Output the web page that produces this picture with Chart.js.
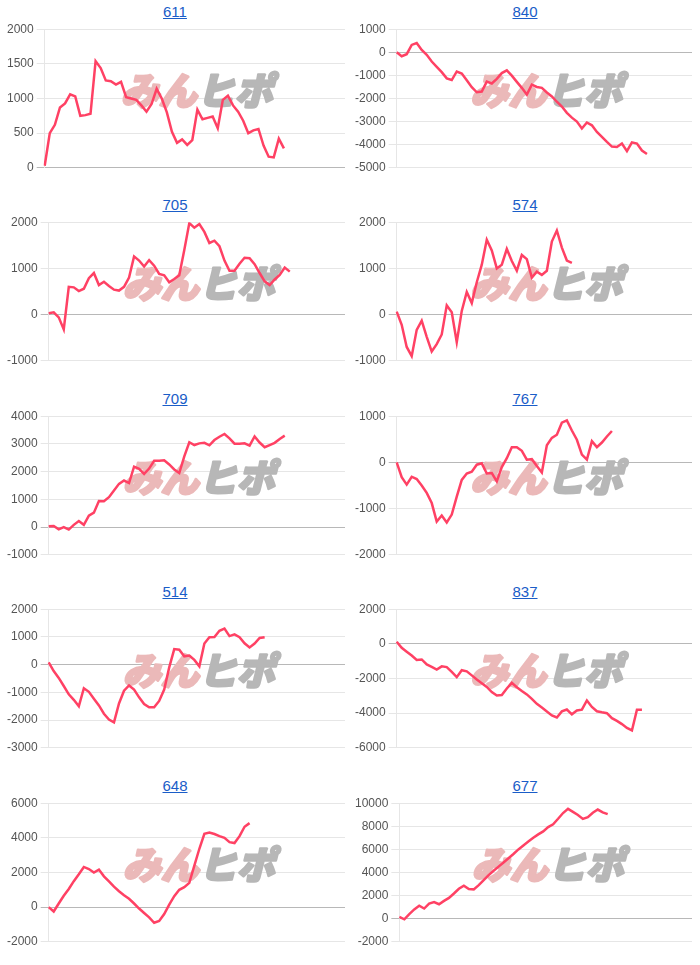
<!DOCTYPE html>
<html>
<head>
<meta charset="utf-8">
<script src="https://cdn.jsdelivr.net/npm/chart.js@4"></script>
<style>
  body { margin: 0; background: #fff; font-family: "Liberation Sans", Arial, sans-serif; }
  #wrap { position: relative; width: 700px; height: 965px; }
  .title { position: absolute; width: 350px; height: 18px; line-height: 18px; text-align: center; font-size: 15px; }
  .title a { color: #1a5dc8; }
  canvas { position: absolute; }
</style>
</head>
<body>
<div id="wrap"></div>
<script>
// chart titles and y axis ranges
const titles = ['611', '840', '705', '574', '709', '767', '514', '837', '648', '677']
const yMin = [0, -5000, -1000, -1000, -1000, -2000, -3000, -6000, -2000, -2000]
const yMax = [2000, 1000, 2000, 2000, 4000, 1000, 2000, 2000, 6000, 10000]
const yStep = [500, 1000, 1000, 1000, 1000, 1000, 1000, 2000, 2000, 2000]

// x slots (no labels shown), the series end before the last slot
const xLabels = Array.from({ length: 60 }, (_, i) => String(i + 1))

const s611 = [30, 500, 620, 870, 930, 1060, 1030, 750, 760, 780, 1540, 1440, 1260, 1250, 1200, 1240, 1020, 1000, 980, 900,
  810, 920, 1140, 1000, 800, 520, 360, 410, 330, 400, 840, 700, 720, 740, 570, 980, 1040, 900, 810, 680,
  500, 540, 560, 320, 160, 150, 420, 280]
const s840 = [0, -170, -80, 320, 400, 100, -110, -400, -630, -860, -1130, -1200, -830, -920, -1210, -1510, -1730, -1700, -1270, -1350,
  -1150, -900, -780, -1010, -1280, -1540, -1830, -1400, -1500, -1540, -1740, -1910, -2140, -2350, -2620, -2830, -3000, -3300, -3040, -3160,
  -3450, -3660, -3880, -4080, -4100, -3950, -4280, -3900, -3950, -4250, -4400]
const s705 = [30, 50, -60, -320, 600, 590, 510, 560, 790, 900, 640, 710, 620, 540, 520, 600, 800, 1260, 1170, 1040,
  1180, 1060, 880, 850, 700, 770, 850, 1400, 1980, 1880, 1960, 1790, 1550, 1600, 1480, 1170, 950, 950, 1100, 1230,
  1220, 1090, 900, 720, 640, 760, 860, 1020, 930]
const s574 = [65, -220, -700, -900, -330, -130, -480, -800, -640, -430, 200, 50, -600, 80, 490, 250, 700, 1080, 1620, 1390,
  1000, 1080, 1420, 1160, 950, 1290, 1200, 800, 930, 860, 950, 1580, 1820, 1450, 1170, 1120]
const s709 = [30, 40, -80, 0, -90, 80, 220, 80, 410, 520, 940, 930, 1080, 1320, 1560, 1680, 1590, 2180, 2100, 1920,
  2110, 2390, 2390, 2410, 2260, 2080, 1950, 2550, 3060, 2960, 3020, 3040, 2950, 3140, 3260, 3360, 3200, 3010, 3010, 3020,
  2940, 3270, 3050, 2880, 2960, 3040, 3180, 3300]
const s767 = [0, -320, -480, -310, -360, -500, -660, -880, -1280, -1150, -1300, -1130, -740, -380, -240, -200, -50, -20, -240, -230,
  -410, -100, 90, 330, 330, 250, 60, 70, -80, -220, 370, 530, 600, 860, 910, 690, 490, 170, 60, 460,
  330, 430, 560, 680]
const s514 = [85, -230, -480, -770, -1070, -1270, -1500, -850, -980, -1230, -1470, -1770, -1980, -2080, -1400, -940, -750, -900, -1180, -1420,
  -1540, -1540, -1310, -900, -100, 560, 540, 300, 330, 170, -60, 760, 990, 1000, 1220, 1300, 1030, 1090, 990, 770,
  620, 760, 960, 990]
const s837 = [125, -230, -450, -670, -930, -900, -1190, -1330, -1480, -1300, -1340, -1620, -1920, -1520, -1590, -1820, -2060, -2270, -2490, -2780,
  -2980, -2950, -2580, -2250, -2500, -2720, -2920, -3180, -3460, -3680, -3900, -4130, -4250, -3900, -3790, -4070, -3850, -3800, -3270, -3640,
  -3890, -3950, -4000, -4290, -4450, -4630, -4850, -5000, -3800, -3800]
const s648 = [0, -250, 210, 660, 1050, 1500, 1900, 2320, 2200, 2000, 2170, 1780, 1490, 1180, 920, 690, 480, 210, -80, -340,
  -590, -900, -800, -400, 140, 630, 1000, 1150, 1400, 2400, 3370, 4230, 4310, 4220, 4100, 4000, 3750, 3700, 4100, 4640,
  4850]
const s677 = [150, -50, 400, 800, 1120, 880, 1300, 1440, 1250, 1540, 1800, 2180, 2590, 2860, 2560, 2540, 2910, 3340, 3770, 4150,
  4510, 4860, 5230, 5600, 6000, 6340, 6680, 7000, 7300, 7560, 7930, 8180, 8650, 9150, 9510, 9250, 8980, 8640, 8790, 9170,
  9450, 9200, 9050]

const series = [s611, s840, s705, s574, s709, s767, s514, s837, s648, s677]

// watermark behind the line
const watermark = {
  id: 'watermark',
  beforeDatasetsDraw(chart) {
    const { ctx, chartArea: a } = chart
    const cx = (a.left + a.right) / 2 + 2
    const cy = (a.top + a.bottom) / 2 - 8
    ctx.save()
    ctx.font = 'italic 900 38px "Noto Sans CJK JP"'
    ctx.textBaseline = 'middle'
    ctx.lineJoin = 'round'
    ctx.lineWidth = 2.5
    const w1 = ctx.measureText('みん').width
    const w2 = ctx.measureText('ヒポ').width
    const x = cx - (w1 + w2) / 2
    ctx.fillStyle = ctx.strokeStyle = '#ebb9b9'
    ctx.strokeText('みん', x, cy)
    ctx.fillText('みん', x, cy)
    ctx.fillStyle = ctx.strokeStyle = '#b7b7b7'
    ctx.strokeText('ヒポ', x + w1, cy)
    ctx.fillText('ヒポ', x + w1, cy)
    ctx.restore()
  }
}

const wrap = document.getElementById('wrap')
Chart.defaults.font.family = '"Liberation Sans", Arial, sans-serif'

for (let i = 0; i < titles.length; i++) {
  const col = i % 2
  const row = Math.floor(i / 2)
  const top = 29 + row * 193.4

  const t = document.createElement('div')
  t.className = 'title'
  t.style.left = (col * 350) + 'px'
  t.style.top = (top - 26) + 'px'
  t.innerHTML = `<a href="#">${titles[i]}</a>`
  wrap.appendChild(t)

  const cv = document.createElement('canvas')
  cv.width = 350
  cv.height = 159
  cv.style.left = (col * 350) + 'px'
  cv.style.top = (top - 10) + 'px'
  wrap.appendChild(cv)

  new Chart(cv.getContext('2d'), {
    type: 'line',
    data: {
      labels: xLabels,
      datasets: [{
        data: series[i],
        borderColor: 'rgb(255,65,100)',
        borderWidth: 2.5,
        pointRadius: 0,
        fill: false,
        tension: 0
      }]
    },
    options: {
      responsive: false,
      animation: false,
      layout: { padding: { left: col ? 2 : 4, right: col ? 8 : 5, top: 10, bottom: 10 } },
      plugins: { legend: { display: false }, tooltip: { enabled: false } },
      scales: {
        x: { display: false },
        y: {
          min: yMin[i],
          max: yMax[i],
          ticks: { stepSize: yStep[i], color: '#555', font: { size: 12 }, callback: v => String(v) },
          grid: {
            color: c => (c.tick && c.tick.value === 0) ? '#b8b8b8' : '#e6e6e6'
          },
          border: { color: '#e6e6e6' }
        }
      }
    },
    plugins: [watermark]
  })
}
</script>
</body>
</html>
